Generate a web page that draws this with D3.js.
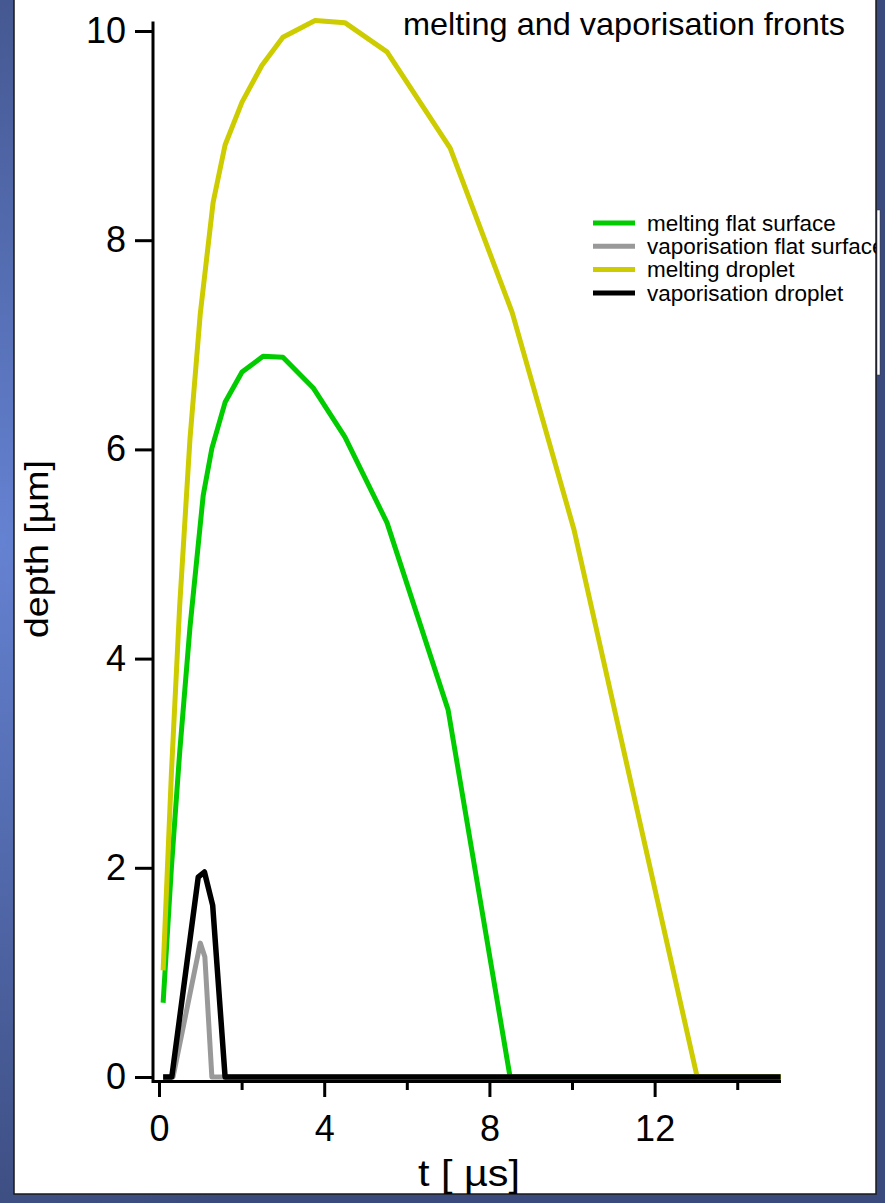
<!DOCTYPE html>
<html lang="en">
<head>
<meta charset="UTF-8">
<title>melting and vaporisation fronts</title>
<style>
  html, body { margin: 0; padding: 0; background: #3a4a7c; }
  svg { display: block; font-family: "Liberation Sans", Arial, sans-serif; }
</style>
</head>
<body>
<div id="chart"></div>
<script src="https://cdn.jsdelivr.net/npm/d3@7"></script>
<script>
// series: t in µs, depth in µm
const tMeltFlat = [0.1, 0.3, 0.5, 0.75, 1.07, 1.28, 1.6, 2.01, 2.52, 3.0, 3.73, 4.5, 5.52, 7.0, 8.5, 15.05];
const dMeltFlat = [0.71, 2.0, 3.1, 4.3, 5.56, 6.01, 6.45, 6.74, 6.89, 6.88, 6.59, 6.12, 5.30, 3.51, 0, 0];

const tVapFlat = [0.1, 0.34, 1.0, 1.11, 1.28, 15.05];
const dVapFlat = [0, 0, 1.28, 1.15, 0, 0];

const tMeltDrop = [0.1, 0.3, 0.5, 0.75, 1.0, 1.31, 1.6, 2.01, 2.49, 3.0, 3.78, 4.5, 5.52, 7.05, 8.55, 10.05, 13.03, 15.05];
const dMeltDrop = [1.02, 2.9, 4.5, 6.1, 7.3, 8.36, 8.91, 9.32, 9.67, 9.94, 10.10, 10.08, 9.80, 8.88, 7.31, 5.23, 0, 0];

const tVapDrop = [0.1, 0.31, 0.95, 1.1, 1.3, 1.6, 15.05];
const dVapDrop = [0, 0, 1.91, 1.96, 1.64, 0, 0];

const seriesNames = ["melting flat surface", "vaporisation flat surface", "melting droplet", "vaporisation droplet"];
const seriesColors = ["#00cc00", "#999999", "#cccc00", "#000000"];

const yTicks = [0, 2, 4, 6, 8, 10];
const xTicks = [0, 2, 4, 6, 8, 10, 12, 14];

const W = 885, H = 1203;

var svg = d3.select("#chart").append("svg")
  .attr("width", W)
  .attr("height", H);

// blue slide background
var defs = svg.append("defs");
var grad = defs.append("radialGradient")
  .attr("id", "bg")
  .attr("cx", 0).attr("cy", 0.45).attr("r", 0.6);
grad.append("stop").attr("offset", "0%").attr("stop-color", "#6582d2");
grad.append("stop").attr("offset", "100%").attr("stop-color", "#3a4a7c");

svg.append("rect").attr("width", W).attr("height", H).attr("fill", "url(#bg)");

defs.append("clipPath").attr("id", "panelClip")
  .append("rect").attr("x", 14).attr("y", 0).attr("width", 862).attr("height", 1194);

// legend box edge sticking out on the right
svg.append("rect")
  .attr("x", 877).attr("y", 210).attr("width", 3).attr("height", 165)
  .attr("fill", "#fff").attr("stroke", "#333").attr("stroke-width", 0.5);

svg.append("rect")
  .attr("x", 14).attr("y", -2).attr("width", 862).attr("height", 1196)
  .attr("fill", "#fff")
  .attr("stroke", "#1a1a1a").attr("stroke-width", 1.5);

var g = svg.append("g").attr("clip-path", "url(#panelClip)");

var x = d3.scaleLinear().domain([0, 15.05]).range([159, 780.6]);
var y = d3.scaleLinear().domain([0, 10]).range([1077, 31]);

// y axis
var yAxis = g.append("g")
  .attr("transform", "translate(153,0)")
  .call(d3.axisLeft(y).tickValues(yTicks).tickSize(18).tickPadding(9).tickFormat(d3.format("d")));
yAxis.select(".domain").remove();
yAxis.selectAll("line").attr("stroke", "#000").attr("stroke-width", 3);
yAxis.selectAll("text").attr("font-size", 36).attr("fill", "#000")
  .style("font-family", "Liberation Sans, Arial, sans-serif");
g.append("line")
  .attr("x1", 153).attr("x2", 153)
  .attr("y1", y(10.09)).attr("y2", 1083)
  .attr("stroke", "#000").attr("stroke-width", 3);

// x axis
var xAxis = g.append("g")
  .attr("transform", "translate(0,1081)")
  .call(d3.axisBottom(x).tickValues(xTicks).tickSize(16).tickPadding(18)
    .tickFormat(d => d % 4 === 0 ? d : ""));
xAxis.select(".domain").remove();
xAxis.selectAll("line").attr("stroke", "#000").attr("stroke-width", 3)
  .attr("y2", d => d % 4 === 0 ? 16 : 9);
xAxis.selectAll("text").attr("font-size", 36).attr("fill", "#000")
  .style("font-family", "Liberation Sans, Arial, sans-serif");

// series
var lineGen = d3.line().x(d => x(d[0])).y(d => y(d[1]));
var series = [
  d3.zip(tMeltFlat, dMeltFlat),
  d3.zip(tVapFlat, dVapFlat),
  d3.zip(tMeltDrop, dMeltDrop),
  d3.zip(tVapDrop, dVapDrop)
];
var widths = [5, 5, 5, 5.5];
series.forEach(function(s, i) {
  g.append("path")
    .datum(s)
    .attr("d", lineGen)
    .attr("fill", "none")
    .attr("stroke", seriesColors[i])
    .attr("stroke-width", widths[i])
    .attr("stroke-linejoin", "round");
});

g.append("line")
  .attr("x1", 152).attr("x2", 781)
  .attr("y1", 1081.5).attr("y2", 1081.5)
  .attr("stroke", "#000").attr("stroke-width", 3);

// axis titles
g.append("text")
  .attr("x", 469).attr("y", 1186)
  .attr("text-anchor", "middle")
  .attr("font-size", 36)
  .attr("textLength", 102)
  .attr("lengthAdjust", "spacingAndGlyphs")
  .text("t [ µs]");

g.append("text")
  .attr("transform", "translate(48,549) rotate(-90)")
  .attr("text-anchor", "middle")
  .attr("font-size", 34)
  .attr("textLength", 178)
  .attr("lengthAdjust", "spacingAndGlyphs")
  .text("depth [µm]");

// title
g.append("text")
  .attr("x", 845).attr("y", 35)
  .attr("text-anchor", "end")
  .attr("font-size", 32)
  .attr("textLength", 442)
  .attr("lengthAdjust", "spacingAndGlyphs")
  .text("melting and vaporisation fronts");

// legend
var legend = g.append("g").attr("transform", "translate(593,223)");
seriesNames.forEach(function(name, i) {
  legend.append("line")
    .attr("x1", 0).attr("x2", 42)
    .attr("y1", i * 23.3).attr("y2", i * 23.3)
    .attr("stroke", seriesColors[i]).attr("stroke-width", 5);
  legend.append("text")
    .attr("x", 54).attr("y", i * 23.3)
    .attr("dy", "0.35em")
    .attr("font-size", 22.5)
    .text(name);
});
</script>
</body>
</html>
